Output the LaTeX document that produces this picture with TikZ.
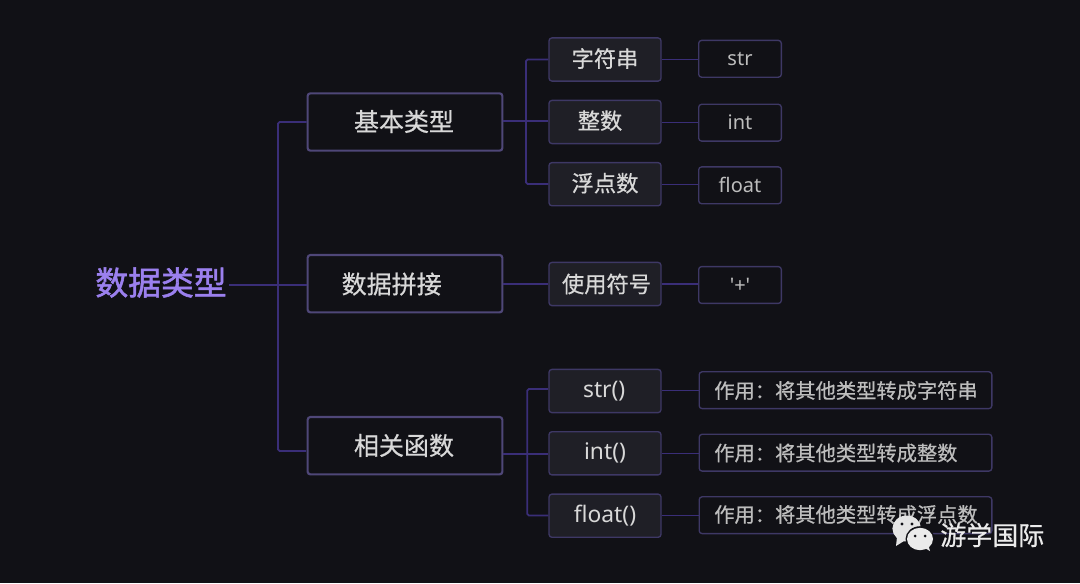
\documentclass[tikz,border=0pt]{standalone}
\usepackage{fontspec}
\setmainfont[FakeBold=0.6]{Noto Sans CJK SC}
\newfontfamily\rootfont[FakeBold=1.6]{Noto Sans CJK SC}
\newfontfamily\latinfont{Noto Sans}
\definecolor{canvas}{HTML}{111116}
\definecolor{wire}{HTML}{3A2E78}
\definecolor{edgeA}{HTML}{4F4778}
\definecolor{edgeB}{HTML}{3E3865}
\definecolor{fillB}{HTML}{1F1F26}
\definecolor{ink}{HTML}{D8D8D8}
\definecolor{inkleaf}{HTML}{BDBDBD}
\definecolor{violet}{HTML}{9B80EE}
\tikzset{
  x=0.75pt,y=-0.75pt,
  wirepath/.style={draw=wire,line width=1.3pt,rounded corners=1.2pt},
  thinwire/.style={draw=wire,line width=1pt},
  mainbox/.style={draw=edgeA,line width=1.6pt,rounded corners=2pt,minimum width=146pt,minimum height=43pt,inner sep=0pt,text=ink,font=\fontsize{18.75}{20}\selectfont},
  midbox/.style={draw=edgeB,fill=fillB,line width=1pt,rounded corners=2.2pt,minimum width=84pt,minimum height=32.4pt,inner sep=0pt,text=ink,font=\fontsize{16.7}{18}\selectfont},
  midcode/.style={midbox,font=\latinfont\fontsize{17.1}{18}\selectfont},
  leafbox/.style={draw=edgeB,line width=1pt,rounded corners=2.2pt,minimum width=62pt,minimum height=27.6pt,inner sep=0pt,text=inkleaf,font=\latinfont\fontsize{15}{16}\selectfont},
  widebox/.style={draw=edgeB,line width=1pt,rounded corners=2.2pt,minimum width=219.5pt,minimum height=27.6pt,inner sep=0pt},
  widetext/.style={anchor=west,text=inkleaf,font=\fontsize{15.2}{16}\selectfont,inner sep=0pt},
  mainlabel/.style={text=ink,inner sep=0pt,font=\fontsize{18.75}{20}\selectfont},
  midlabel/.style={text=ink,inner sep=0pt,font=\fontsize{16.7}{18}\selectfont},
}
\begin{document}
\begin{tikzpicture}
\fill[canvas] (0,0) rectangle (1080,583);
\useasboundingbox (0,0) rectangle (1080,583);

% root title
\node[text=violet,font=\rootfont\fontsize{24.6}{28}\selectfont,inner sep=0pt] (root) at (161,282.5) {数据类型};

% first level
\node[mainbox] (basic) at (405,122) {};
\node[mainbox] (concat) at (405,283.7) {};
\node[mainbox] (funcs) at (405,445.7) {};
\node[mainlabel] (basiclabel) at (404,121.5) {基本类型};
\node[mainlabel] (concatlabel) at (391.7,284) {数据拼接};
\node[mainlabel] (funcslabel) at (404,445.5) {相关函数};

% second level
\node[midbox] (s) at (605,59.5) {};
\node[midbox] (i) at (605,122) {};
\node[midbox] (f) at (605,184.2) {};
\node[midbox] (use) at (605,284) {};
\node[midbox] (fs) at (605,391) {};
\node[midbox] (fi) at (605,453.3) {};
\node[midbox] (ff) at (605,515.7) {};
\node[midlabel] (slabel) at (605,58.5) {字符串};
\node[midlabel] (ilabel) at (600,120.7) {整数};
\node[midlabel] (flabel) at (605,183.2) {浮点数};
\node[midlabel] (uselabel) at (606.5,284) {使用符号};
\node[midcode,draw=none,fill=none] (fslabel) at (604.2,391) {str()};
\node[midcode,draw=none,fill=none] (filabel) at (605,453) {int()};
\node[midcode,draw=none,fill=none] (fflabel) at (605,515.5) {float()};

% third level
\node[leafbox] (ls) at (740,58.8) {str};
\node[leafbox] (li) at (740,122.7) {int};
\node[leafbox] (lf) at (740,185.3) {float};
\node[leafbox] (lp) at (740,285) {'+'};
\node[widebox] (ws) at (845.5,390.2) {};
\node[widebox] (wi) at (845.5,452.7) {};
\node[widebox] (wf) at (845.5,515.2) {};
\node[widetext] (wst) at (714,390.5) {作用：将其他类型转成字符串};
\node[widetext] (wit) at (714,453) {作用：将其他类型转成整数};
\node[widetext] (wft) at (714,514.5) {作用：将其他类型转成浮点数};

% attachment points that sit off the box centres
\coordinate (rootout) at (229,285);
\coordinate (trunktop) at (278,122);
\coordinate (trunkend) at (278,451);
\coordinate (funcsin) at (306,451);
\coordinate (basicout) at (503,121);
\coordinate (iin) at (548,121);
\coordinate (funcsout) at (503,454.3);
\coordinate (fiin) at (548,454.3);
\coordinate (fsin) at (548,389);
\coordinate (bracketAtop) at (526,59.5);
\coordinate (bracketAend) at (526,184);
\coordinate (bracketBtop) at (527.3,389);
\coordinate (bracketBend) at (527.3,515.5);

% connectors
\draw[wirepath] (rootout) -- (rootout -| concat.west);
\draw[wirepath] (basic.west) -- (trunktop) -- (trunkend) -- (funcsin);
\draw[wirepath] (basicout) -- (iin);
\draw[wirepath] (s.west) -- (bracketAtop) -- (bracketAend) -- (bracketAend -| f.west);
\draw[wirepath] (concat.east |- use.west) -- (use.west);
\draw[wirepath] (funcsout) -- (fiin);
\draw[wirepath] (fsin) -- (bracketBtop) -- (bracketBend) -- (bracketBend -| ff.west);
\draw[thinwire] (s.east) -- (s.east -| ls.west);
\draw[thinwire] (li.west -| i.east) -- (li.west);
\draw[thinwire] (f.east) -- (f.east -| lf.west);
\draw[thinwire] (use.east) -- (use.east -| lp.west);
\draw[thinwire] (ws.west -| fs.east) -- (ws.west);
\draw[thinwire] (fi.east) -- (fi.east -| wi.west);
\draw[thinwire] (ff.east) -- (ff.east -| wf.west);

% account mark with its two speech bubbles
\fill[white!90!black] (906.7,528.5) ellipse (14.3 and 13);
\fill[white!90!black] (897,537) -- (896,546) -- (904,541) -- cycle;
\fill[canvas] (920,539) ellipse (14.5 and 12.8);
\fill[white!92!black] (920,539) ellipse (13 and 11.2);
\fill[white!92!black] (923,547) -- (930,551) -- (928,544) -- cycle;
\fill[canvas] (902,524) circle (1.7) (912,524) circle (1.7) (915,536) circle (1.5) (925,536) circle (1.5);
\node[anchor=west,text=white!92!black,font=\fontsize{19.5}{22}\selectfont,inner sep=0pt] (brand) at (940,535) {游学国际};
\end{tikzpicture}
\end{document}
